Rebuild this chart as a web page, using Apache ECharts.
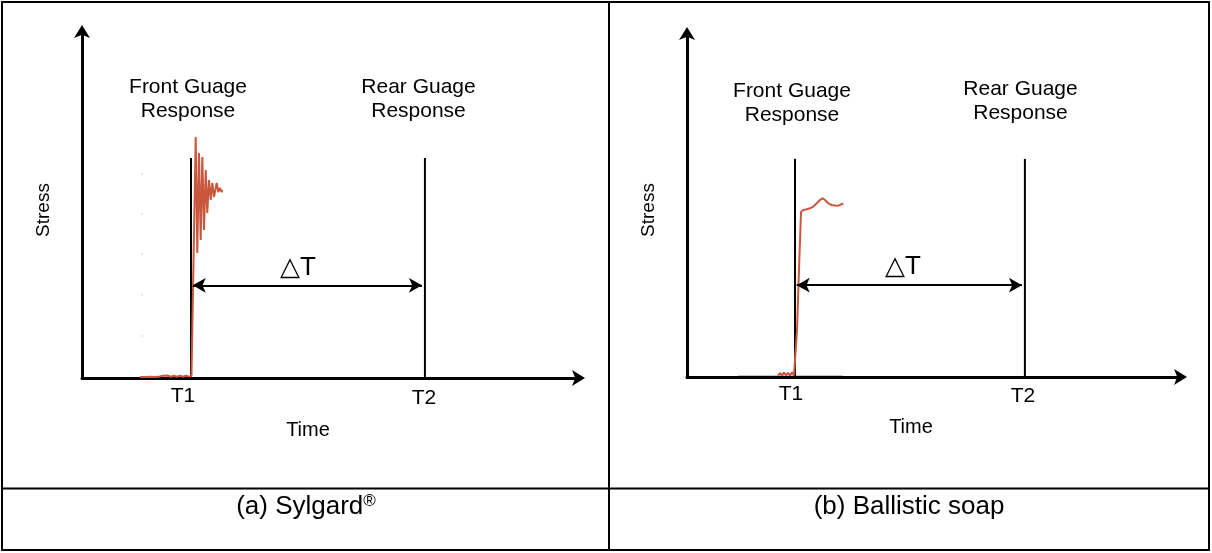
<!DOCTYPE html>
<html>
<head>
<meta charset="utf-8">
<script src="https://cdn.jsdelivr.net/npm/echarts@6/dist/echarts.min.js"></script>
<style>
  html, body { margin: 0; padding: 0; background: #fff; }
  #chart { width: 1212px; height: 553px; }
</style>
</head>
<body>
<div id="chart"></div>
<script>
// Axis units: time and stress both run 0..100 (arbitrary units).
const timeMax = 100;
const stressMax = 100;

// Gauge trigger times for each specimen
const sylgardT1 = 21.93;
const sylgardT2 = 69.0;
const soapT1 = 21.86;
const soapT2 = 68.4;

// Height of the T1/T2 markers and of the ΔT arrow
const markerTop = 63.4;
const deltaLevel = 26.7;

// Front gauge trace, Sylgard (time, stress)
const sylgardTrace = [
  [11.67, 0.29], [12.68, 0.29], [13.68, 0.35], [14.69, 0.29], [15.69, 0.43],
  [16.30, 0.63], [16.70, 0.35], [17.30, 0.69], [17.91, 0.37], [18.51, 0.66],
  [19.11, 0.35], [19.72, 0.69], [20.32, 0.37], [20.93, 0.63], [21.53, 0.40],
  [22.03, 0.58], [22.27, 0.29], [22.88, 69.45], [23.20, 36.02], [23.54, 64.84],
  [23.88, 39.77], [24.21, 63.69], [24.55, 42.65], [24.89, 59.94], [25.21, 47.55],
  [25.55, 57.06], [25.90, 51.30], [26.22, 56.20], [26.56, 52.16], [27.10, 56.20],
  [27.43, 53.60], [27.77, 54.76], [28.11, 53.60], [28.27, 54.18]
];

// Faint grid dots left of the Sylgard trace
const sylgardDots = [[12.07, 58.8], [12.07, 47.3], [12.07, 35.7], [12.07, 23.9], [12.07, 12.1]];

// Front gauge trace, ballistic soap (time, stress)
const soapTrace = [
  [18.42, 0.44], [18.83, 1.16], [19.23, 0.49], [19.64, 1.31], [20.04, 0.52],
  [20.45, 1.22], [20.85, 0.47], [21.26, 1.37], [21.66, 0.44], [21.96, 0.15],
  [22.27, 13.66], [22.67, 31.10], [23.08, 47.97], [23.54, 48.55], [23.89, 48.84],
  [24.23, 48.75], [24.60, 49.13], [24.90, 49.04], [25.30, 49.27], [25.57, 49.51],
  [25.91, 50.00], [26.26, 50.49], [26.62, 50.87], [26.92, 51.45], [27.47, 51.95],
  [27.94, 51.45], [28.60, 50.49], [28.95, 50.15], [29.29, 50.00], [29.66, 50.20],
  [29.96, 49.85], [30.30, 50.12], [30.63, 49.80], [30.97, 50.15], [31.64, 50.44]
];

// Grey reference baseline under the soap trace
const soapBaseline = [[10.32, 0.44], [31.58, 0.44]];

// Panel captions and annotation text
const captions = ['(a) Sylgard{sup|®}', '(b) Ballistic soap'];
const frontLabel = ['Front Guage', 'Response'];
const rearLabel = ['Rear Guage', 'Response'];
const deltaLabel = '△T';
const axisNames = { x: 'Time', y: 'Stress' };

const traceColor = '#c9573d';
const font = '"Liberation Sans", Arial, Helvetica, sans-serif';

function axisPair(gridIndex) {
  const line = {
    show: true,
    onZero: false,
    symbol: ['none', 'arrow'],
    symbolSize: [12, 13],
    symbolOffset: [0, 6],
    lineStyle: { color: '#000', width: 3 }
  };
  return {
    x: {
      type: 'value', gridIndex, min: 0, max: timeMax,
      axisLine: line, axisTick: { show: false }, axisLabel: { show: false }, splitLine: { show: false }
    },
    y: {
      type: 'value', gridIndex, min: 0, max: stressMax,
      axisLine: line, axisTick: { show: false }, axisLabel: { show: false }, splitLine: { show: false }
    }
  };
}

function marker(idx, t) {
  return {
    type: 'line', xAxisIndex: idx, yAxisIndex: idx, silent: true,
    showSymbol: false, symbol: 'none',
    lineStyle: { color: '#000', width: 2 },
    data: [[t, 0], [t, markerTop]],
    z: 3
  };
}

function deltaArrow(idx, t1, t2) {
  return {
    type: 'line', xAxisIndex: idx, yAxisIndex: idx, silent: true,
    data: [], showSymbol: false,
    markLine: {
      silent: true, animation: false,
      symbol: ['arrow', 'arrow'], symbolSize: [11, 13],
      label: { show: false },
      lineStyle: { color: '#000', width: 2, type: 'solid' },
      data: [[{ coord: [t1 + 0.35, deltaLevel] }, { coord: [t2 - 0.6, deltaLevel] }]]
    }
  };
}

function trace(idx, data, color, width, z) {
  return {
    type: 'line', xAxisIndex: idx, yAxisIndex: idx, silent: true,
    showSymbol: false, symbol: 'none', smooth: false,
    lineStyle: { color, width }, data, z
  };
}

const a0 = axisPair(0), a1 = axisPair(1);

function txt(x, y, text, size, extra) {
  return Object.assign({
    type: 'text', x, y,
    style: { text, x: 0, y: 0, font: size + 'px ' + font, fill: '#000', align: 'center', verticalAlign: 'middle' }
  }, extra || {});
}

function panelText(o) {
  return [
    txt(o.fx, o.fy, frontLabel[0], 21), txt(o.fx, o.fy + 24, frontLabel[1], 21),
    txt(o.rx, o.ry, rearLabel[0], 21), txt(o.rx, o.ry + 24, rearLabel[1], 21),
    txt(o.dx, o.dy, deltaLabel, 26),
    txt(o.t1x, o.t1y, 'T1', 21), txt(o.t2x, o.t2y, 'T2', 21),
    txt(o.tx, o.ty, axisNames.x, 20),
    txt(o.sx, o.sy, axisNames.y, 19, { rotation: Math.PI / 2 })
  ];
}

const border = { stroke: '#000', lineWidth: 2 };
const graphic = [
  { type: 'rect', shape: { x: 2, y: 2, width: 1207, height: 548 }, style: Object.assign({ fill: 'none' }, border) },
  { type: 'line', shape: { x1: 609, y1: 2, x2: 609, y2: 550 }, style: border },
  { type: 'line', shape: { x1: 2, y1: 488.5, x2: 1209, y2: 488.5 }, style: border },
  {
    type: 'text', x: 306, y: 507,
    style: {
      text: captions[0], x: 0, y: 0, align: 'center', verticalAlign: 'middle',
      font: '26px ' + font, fill: '#000',
      rich: { sup: { fontSize: 17, fontFamily: 'Liberation Sans', verticalAlign: 'top', padding: [0, 0, 12, 0] } }
    }
  },
  txt(909, 507, captions[1], 26)
].concat(
  panelText({ fx: 188, fy: 87, rx: 418.5, ry: 87, dx: 298, dy: 268, t1x: 183, t1y: 396, t2x: 424, t2y: 398, tx: 308, ty: 430, sx: 44, sy: 210 }),
  panelText({ fx: 792, fy: 91, rx: 1020.5, ry: 89, dx: 903, dy: 267, t1x: 791, t1y: 394, t2x: 1023, t2y: 396, tx: 911, ty: 427, sx: 649, sy: 210 })
);

const chart = echarts.init(document.getElementById('chart'), null, { renderer: 'canvas' });
chart.setOption({
  animation: false,
  backgroundColor: '#fff',
  grid: [
    { left: 82, top: 31, width: 497, height: 347 },
    { left: 687, top: 33, width: 494, height: 344 }
  ],
  xAxis: [a0.x, a1.x],
  yAxis: [a0.y, a1.y],
  series: [
    {
      type: 'scatter', xAxisIndex: 0, yAxisIndex: 0, silent: true,
      symbolSize: 2, itemStyle: { color: '#d9d9d9' }, data: sylgardDots
    },
    marker(0, sylgardT1), marker(0, sylgardT2),
    deltaArrow(0, sylgardT1, sylgardT2),
    trace(0, sylgardTrace, traceColor, 2, 4),
    trace(1, soapBaseline, '#c8c8c8', 1, 2),
    marker(1, soapT1), marker(1, soapT2),
    deltaArrow(1, soapT1, soapT2),
    trace(1, soapTrace, traceColor, 2, 4)
  ],
  graphic
});
</script>
</body>
</html>
